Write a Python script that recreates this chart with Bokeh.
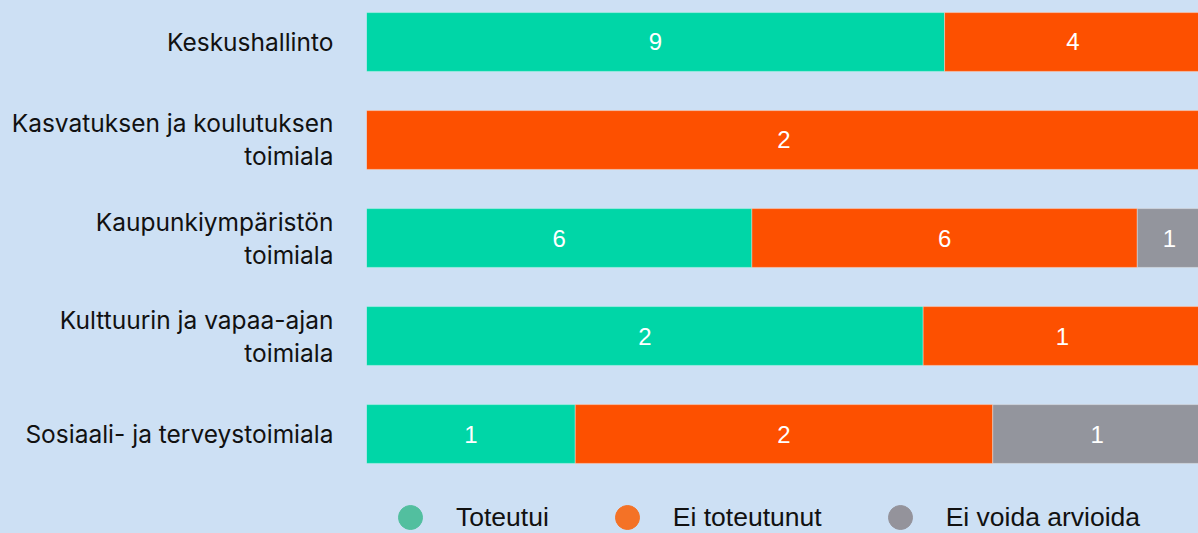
import numpy as np
from bokeh.plotting import figure
from bokeh.layouts import column
from bokeh.models import ColumnDataSource, FactorRange, Range1d, Legend, LegendItem
from bokeh.core.properties import value
from bokeh.embed import file_html
from bokeh.resources import INLINE

# ---- data ----
categories = [
    "Keskushallinto",
    "Kasvatuksen ja koulutuksen\ntoimiala",
    "Kaupunkiympäristön\ntoimiala",
    "Kulttuurin ja vapaa-ajan\ntoimiala",
    "Sosiaali- ja terveystoimiala",
]
toteutui = [9, 0, 6, 2, 1]
ei_toteutunut = [4, 2, 6, 1, 2]
ei_voida_arvioida = [0, 0, 1, 0, 1]
series_names = ["Toteutui", "Ei toteutunut", "Ei voida arvioida"]

# ---- styles ----
BG = "#cde0f4"
bar_colors = ["#00d6a7", "#fd5000", "#93959d"]
legend_colors = ["#52bf9f", "#f47226", "#94939b"]

counts = np.array([toteutui, ei_toteutunut, ei_voida_arvioida], dtype=float)
shares = counts / counts.sum(axis=0)
lefts = np.vstack([np.zeros(len(categories)), np.cumsum(shares, axis=0)[:-1]])
rights = lefts + shares

p = figure(
    width=1198, height=473,
    y_range=FactorRange(factors=categories[::-1], range_padding=-0.097,
                        range_padding_units="absolute"),
    x_range=Range1d(0, 0.9964),
    output_backend="svg", toolbar_location=None,
    min_border_left=366, min_border_right=0, min_border_top=2, min_border_bottom=0,
    background_fill_color=BG, border_fill_color=BG,
    outline_line_color=BG, outline_line_width=2,
)

for i in range(len(series_names)):
    mask = counts[i] > 0
    src = ColumnDataSource(dict(
        y=[c for c, m in zip(categories, mask) if m],
        left=lefts[i][mask], right=rights[i][mask],
        mid=((lefts[i] + rights[i]) / 2)[mask],
        label=[str(int(v)) for v in counts[i][mask]],
    ))
    p.hbar(y="y", left="left", right="right", height=0.6, source=src,
           fill_color=bar_colors[i], line_color="white", line_alpha=0.35, line_width=1)
    p.text(x="mid", y="y", text="label", source=src, text_align="center",
           text_baseline="middle", text_color="white",
           text_font=value("Liberation Sans"), text_font_size="24px")

p.xaxis.visible = False
p.xgrid.visible = False
p.ygrid.visible = False
ax = p.yaxis[0]
ax.axis_line_color = None
ax.major_tick_line_color = None
ax.minor_tick_line_color = None
ax.major_tick_out = 0
ax.major_tick_in = 0
ax.major_label_standoff = 33
ax.major_label_text_font = "Inter"
ax.major_label_text_font_size = "24.5px"
ax.major_label_text_color = "#111111"
ax.major_label_text_line_height = 1.1

# ---- legend strip ----
lg = figure(
    width=1198, height=60, x_range=Range1d(0, 1), y_range=Range1d(0, 1),
    output_backend="svg", toolbar_location=None,
    min_border_left=0, min_border_right=0, min_border_top=0, min_border_bottom=0,
    background_fill_color=BG, border_fill_color=BG,
    outline_line_color=BG, outline_line_width=2,
)
lg.axis.visible = False
lg.grid.visible = False

items = []
for name, col in zip(series_names, legend_colors):
    # legend-only renderer: one placeholder row without a position, never shown
    r = lg.scatter(x=[np.nan], y=[np.nan], marker="circle", fill_color=col,
                   line_color=col, visible=False)
    items.append(LegendItem(label=name, renderers=[r]))

legend = Legend(
    items=items, orientation="horizontal", location=(14, -14),
    glyph_width=60, glyph_height=60, label_height=60, label_standoff=16, spacing=48,
    padding=0, margin=0, border_line_color=None, background_fill_alpha=0,
    label_text_font="Liberation Sans", label_text_font_size="26.5px",
    label_text_color="#111111", click_policy="none",
)
lg.add_layout(legend, "center")

layout = column(p, lg, spacing=0)

html = file_html(layout, INLINE)
idx = html.rfind("<body")
if idx >= 0:
    html = html[:idx] + '<body style="background-color:%s"' % BG + html[idx + 5:]
open("out.html", "w").write(html)
